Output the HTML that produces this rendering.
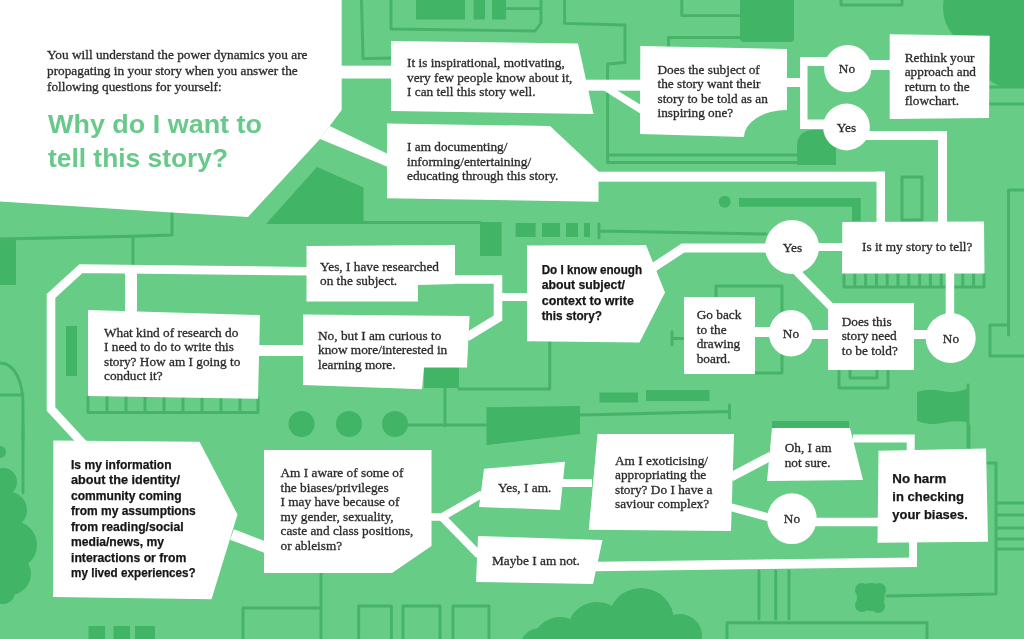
<!DOCTYPE html>
<html><head><meta charset="utf-8">
<style>
html,body{margin:0;padding:0;background:#66cc86;}
body{width:1024px;height:639px;overflow:hidden;position:relative;}
svg{will-change:transform;position:absolute;left:0;top:0;display:block}
.s{font-family:"Liberation Serif",serif;font-size:13.3px;fill:#2b2b2b;stroke:#2b2b2b;stroke-width:0.3px}
.b{font-family:"Liberation Sans",sans-serif;font-weight:bold;font-size:12.2px;fill:#161616;stroke:#161616;stroke-width:0.25px}
.h{font-family:"Liberation Sans",sans-serif;font-weight:bold;font-size:26px;fill:#68ca8a}
.nh{font-family:"Liberation Sans",sans-serif;font-weight:bold;font-size:13.2px;fill:#161616;stroke:#161616;stroke-width:0.25px}
</style></head><body>
<svg width="1024" height="639" viewBox="0 0 1024 639">
<rect width="1024" height="639" fill="#66cc86"/>

<!-- ===== background: dark shapes ===== -->
<g id="dark" fill="#41b466">
<rect x="416" y="-2" width="49" height="21.5"/>
<rect x="473.6" y="-2" width="11.4" height="21.5"/>
<rect x="492" y="-2" width="14" height="21.5"/>
<path d="M740,0 H794 V38 Q794,42 790,42 H744 Q740,42 740,38 Z"/>
<circle cx="985" cy="8" r="42"/><circle cx="1012" cy="52" r="36"/><circle cx="1000" cy="30" r="40"/>
<path d="M797,165 V147 Q797,130 814,130 H836 V165 Z"/>
<polygon points="266,224 317,167 363.5,187.5 363.5,224"/>
<rect x="0" y="240" width="16" height="45"/>
<rect x="66" y="326" width="11" height="50"/>
<rect x="480" y="222" width="21.6" height="34"/>
<rect x="515.6" y="223" width="20" height="14"/>
<rect x="542" y="223" width="18" height="14"/>
<rect x="566" y="223" width="12" height="14"/>
<rect x="584" y="223" width="6" height="14"/>
<rect x="424" y="366" width="35" height="22"/>
<circle cx="301.5" cy="424" r="13"/><circle cx="349" cy="424" r="13"/><circle cx="395" cy="424" r="13"/>
<polygon points="486.5,407.3 580,406 580,434 486.5,445"/>
<rect x="599.5" y="392.5" width="38.5" height="10"/>
<rect x="646" y="390" width="63.5" height="11"/>
<path d="M917,392 Q930,388 942,391 T967,389 V422 Q955,420 942,423 T917,421 Z"/>
<circle cx="0" cy="452" r="6"/><circle cx="3" cy="482" r="14"/><circle cx="9" cy="510" r="18"/><circle cx="13" cy="545" r="24"/><circle cx="10" cy="574" r="21"/><circle cx="3" cy="592" r="12"/>
<rect x="88.5" y="626" width="16.5" height="14"/><rect x="113.5" y="626" width="16.5" height="14"/><rect x="135" y="626" width="20" height="14"/>
<circle cx="597" cy="632" r="30"/><circle cx="641" cy="621" r="33"/><circle cx="680" cy="636" r="22"/><circle cx="560" cy="645" r="28"/><circle cx="540" cy="648" r="20"/>
<circle cx="870.7" cy="597" r="14"/><circle cx="862" cy="590" r="7"/><circle cx="879" cy="590" r="7"/><circle cx="862" cy="605" r="7"/><circle cx="878" cy="606" r="7"/>
<circle cx="724.7" cy="201.7" r="6"/>
<path d="M739,198 H860.7 V221 H852 V206.7 H739 Z"/>
<rect x="772" y="421" width="77" height="8"/>
</g>

<!-- ===== background: thin lines ===== -->
<g id="lines" fill="none" stroke="#46b369" stroke-width="2.9" stroke-linejoin="round" stroke-linecap="round">
<path d="M361.5,0 L363,58.6 L391,58"/>
<path d="M391,0 V29 L535,31 L541,23 V0 M506,8.6 H541"/>
<path d="M564.6,0 V23.4 L625,25 V62.5 L607.6,64 V162 M607.6,155 H797 M607.6,162.5 H800"/>
<path d="M681.8,0 V15.6 H740"/>
<path d="M668.5,47 V37.5 H740"/>
<path d="M841,0 V5 H902 V0"/>
<path d="M990,87 H1024 M990,104 H1024"/>
<path d="M0,239 L133,236.3 L172,235 V213 M133,236.3 V265"/>
<path d="M363,222.5 H480"/>
<path d="M549.7,342 V389 H459 M445,389 V426"/>
<path d="M755,286 H782 V373 H755 M716,297 V286 H755"/>
<path d="M839,370 V388 H888 V370 M850,370 V378 H877 V370"/>
<path d="M1008.5,335 V190 H1024 M990,325 V356 H1024 M990,325 H1008.5"/>
<path d="M902,177 H922 V220 H902 Z"/>
<path d="M844,274 V287 H984 V274 M854.8,274 V287 M865.6,274 V287 M876.4,274 V287 M887.2,274 V287 M898.0,274 V287 M908.8,274 V287 M919.6,274 V287 M930.4,274 V287 M941.2,274 V287 M952.0,274 V287 M962.8,274 V287 M973.6,274 V287"/>
<path d="M88,397 V412.5 H258 V398 M107,397 V412 M126,397 V412 M145,397 V412 M164,397 V412 M183,397 V412 M202,397 V412 M221,397 V412 M240,397 V412"/>
<path d="M0,363 C15,363 23,382 23,405 V440 M0,395 H23"/>
<path d="M968,385 V447"/>
<path d="M599,231 L766,234 M599,224 V238"/>
<path d="M672,338.5 H684 M672,332 V345"/>
<path d="M580,415 L729.5,411.5 M729.5,405 V418"/>
<path d="M408,425 H486"/>
<path d="M23,426 V493"/>
<path d="M321,573 V639 M243,639 V608 H321"/>
<path d="M358.7,639 V606 H391.4 V639 M403,639 V606 H440 V639 M453,639 V606 H489 V639"/>
<path d="M969,426 V448 M988,463 H996 V594 L887,596"/>
<path d="M997,503 H1024 M997,515 H1024 M997,528 H1024 M997,539 H1024 M997,549 H1024"/>
<path d="M759,571 V619 M775.7,571 V619 M789,571 V619 M727,639 V622.7 H927 V639"/>
</g>

<!-- ===== white flow shapes ===== -->
<g id="white" fill="#ffffff">
<polygon points="0,0 341.7,0 341.7,110 329.7,126 320,139 248,217 172,212.5 0,201.5"/>
<rect x="340" y="65.7" width="53" height="12.8"/>
<polygon points="329.7,126 388,154 388,167 320,139"/>
<polygon points="391,41 578,43.5 593.5,114 391,111"/>
<polygon points="387,123.5 550,126 598.5,171.5 598.5,201.8 387,198.3"/>
<rect x="586" y="79.7" width="56" height="11"/>
<polygon points="603,90 616.5,90 641,105 641,114"/>
<path d="M640.3,46 L787,49 V110 A43 27 0 0 0 744 137 L640,134 Z"/>
<rect x="786" y="78" width="16" height="9"/>
<rect x="800" y="57" width="7.5" height="72"/>
<rect x="800" y="57" width="47" height="9"/>
<rect x="800" y="119.5" width="47" height="9.5"/>
<circle cx="847.7" cy="68.6" r="23.6"/>
<circle cx="846.5" cy="127" r="23.4"/>
<rect x="847" y="60" width="44" height="10"/>
<polygon points="889.7,34.3 989.7,35.7 989,118 889.7,119"/>
<rect x="846" y="131" width="101" height="9"/>
<rect x="938" y="131" width="9" height="91"/>
<rect x="597" y="171.7" width="288" height="10"/>
<rect x="876.5" y="171.7" width="8.5" height="51"/>
<polygon points="842.3,222 984,221.5 984.5,273.5 842,273.5"/>
<circle cx="792" cy="247" r="27"/>
<rect x="815" y="243" width="28" height="8"/>
<rect x="828" y="303" width="86" height="67"/>
<circle cx="950.7" cy="338" r="25"/>
<rect x="945.7" y="272" width="8.5" height="45"/>
<rect x="912" y="330" width="18" height="9"/>
<ellipse cx="790.9" cy="333.3" rx="22" ry="23.2"/>
<rect x="810" y="330" width="20" height="9"/>
<rect x="753" y="327" width="20" height="10"/>
<rect x="684" y="297" width="71" height="77"/>
<polygon points="527,245.5 646,245 665,292.5 639.5,342.5 527,341.3"/>
<polygon points="306.5,246 455,245 455,284 418,285 418,301.5 306.5,301.5"/>
<rect x="125" y="270" width="12" height="42"/>
<polygon points="88,310 260,315 258,398.7 88,396"/>
<rect x="258" y="345" width="47" height="11"/>
<polygon points="303,314.5 469.6,316 467,367.5 424,367.5 422,389.3 303,385"/>
<polygon points="53.4,440.5 199.5,441.8 237.5,514.5 211.5,599.3 53,597"/>
<polygon points="264,450 431.5,450 431.5,546 392,573 264,573"/>
<polygon points="484,468.7 565,461.7 560,510 479,507"/>
<polygon points="478,536 602.5,540 593,584 476,582"/>
<polygon points="597.5,434 734,434 731,531 588.8,529.7"/>
<polygon points="772,428 850,428 863,480 767,481"/>
<ellipse cx="791.9" cy="518.7" rx="24.8" ry="25.4"/>
<polygon points="878.5,450.7 986,448.5 988,541.7 877.5,542.8"/>
</g>
<g id="wl" fill="none" stroke="#ffffff" stroke-linejoin="miter" stroke-linecap="butt">
<polyline points="648,271 683,248 770,248" stroke-width="9"/>
<polyline points="792,267 836,312" stroke-width="7.6"/>
<polyline points="453,279.5 498,279.5 498,318 467,337" stroke-width="8.6"/>
<polyline points="498,297 529,297" stroke-width="8"/>
<polyline points="308,271.2 81,268.6 51,296 51,409 86,447" stroke-width="8.6"/>
<polyline points="232,534.5 266,547.5" stroke-width="11"/>
<polyline points="430,517 442,517 482,494" stroke-width="7.5"/>
<polyline points="442,517 479,555" stroke-width="8"/>
<polyline points="560,483 592,483" stroke-width="8"/>
<polyline points="596,566.5 917,562.3" stroke-width="9.5"/><polyline points="913,567 913,541" stroke-width="8"/>
<polyline points="731,477 771,456" stroke-width="9"/>
<polyline points="730,507 771,518" stroke-width="8"/>
<polyline points="814,522 880,522" stroke-width="8.5"/>
<polyline points="853,438.5 910.7,438.5 910.7,452" stroke-width="8"/>
</g>

<!-- ===== text ===== -->
<g class="s">
<text x="47" y="58.5">You will understand the power dynamics you are</text>
<text x="47" y="74.8">propagating in your story when you answer the</text>
<text x="47" y="91">following questions for yourself:</text>

<text x="407" y="67">It is inspirational, motivating,</text>
<text x="407" y="81.7">very few people know about it,</text>
<text x="407" y="96.3">I can tell this story well.</text>

<text x="407" y="151">I am documenting/</text>
<text x="407" y="165.7">informing/entertaining/</text>
<text x="407" y="180.3">educating through this story.</text>

<text x="657.5" y="73.5">Does the subject of</text>
<text x="657.5" y="88">the story want their</text>
<text x="657.5" y="102.5">story to be told as an</text>
<text x="657.5" y="117">inspiring one?</text>

<text x="847" y="72.5" text-anchor="middle">No</text>
<text x="846.5" y="131.5" text-anchor="middle">Yes</text>

<text x="904.7" y="61.7">Rethink your</text>
<text x="904.7" y="76.2">approach and</text>
<text x="904.7" y="90.7">return to the</text>
<text x="904.7" y="105.2">flowchart.</text>

<text x="792.5" y="252" text-anchor="middle">Yes</text>
<text x="862" y="251.3">Is it my story to tell?</text>

<text x="841.7" y="325.5">Does this</text>
<text x="841.7" y="340">story need</text>
<text x="841.7" y="354.5">to be told?</text>
<text x="951" y="342.5" text-anchor="middle">No</text>
<text x="791" y="338" text-anchor="middle">No</text>

<text x="696.7" y="319">Go back</text>
<text x="696.7" y="333.5">to the</text>
<text x="696.7" y="348">drawing</text>
<text x="696.7" y="362.5">board.</text>

<text x="320" y="270.5">Yes, I have researched</text>
<text x="320" y="285">on the subject.</text>

<text x="104" y="336.7">What kind of research do</text>
<text x="104" y="351.2">I need to do to write this</text>
<text x="104" y="365.7">story? How am I going to</text>
<text x="104" y="380.2">conduct it?</text>

<text x="318" y="339.8">No, but I am curious to</text>
<text x="318" y="354.3">know more/interested in</text>
<text x="318" y="368.8">learning more.</text>

<text x="280.5" y="477">Am I aware of some of</text>
<text x="280.5" y="491.5">the biases/privileges</text>
<text x="280.5" y="506">I may have because of</text>
<text x="280.5" y="520.5">my gender, sexuality,</text>
<text x="280.5" y="535">caste and class positions,</text>
<text x="280.5" y="549.5">or ableism?</text>

<text x="498" y="491.5">Yes, I am.</text>
<text x="492" y="564.6">Maybe I am not.</text>

<text x="615" y="464.8">Am I exoticising/</text>
<text x="615" y="479.3">appropriating the</text>
<text x="615" y="493.8">story? Do I have a</text>
<text x="615" y="508.3">saviour complex?</text>

<text x="784.7" y="452">Oh, I am</text>
<text x="784.7" y="466.5">not sure.</text>
<text x="792" y="522.5" text-anchor="middle">No</text>
</g>

<g class="h">
<text x="48" y="132.7" textLength="214" lengthAdjust="spacingAndGlyphs">Why do I want to</text>
<text x="48" y="167" textLength="180" lengthAdjust="spacingAndGlyphs">tell this story?</text>
</g>

<g class="b">
<text x="541.7" y="274" textLength="100.4" lengthAdjust="spacingAndGlyphs">Do I know enough</text>
<text x="541.7" y="289.3" textLength="83.2" lengthAdjust="spacingAndGlyphs">about subject/</text>
<text x="541.7" y="304.7" textLength="92.2" lengthAdjust="spacingAndGlyphs">context to write</text>
<text x="541.7" y="320" textLength="60.3" lengthAdjust="spacingAndGlyphs">this story?</text>

<text x="71" y="468.7" textLength="100.5" lengthAdjust="spacingAndGlyphs">Is my information</text>
<text x="71" y="484.2" textLength="109" lengthAdjust="spacingAndGlyphs">about the identity/</text>
<text x="71" y="499.7" textLength="110.6" lengthAdjust="spacingAndGlyphs">community coming</text>
<text x="71" y="515.2" textLength="124.7" lengthAdjust="spacingAndGlyphs">from my assumptions</text>
<text x="71" y="530.7" textLength="112.6" lengthAdjust="spacingAndGlyphs">from reading/social</text>
<text x="71" y="546.2" textLength="92.9" lengthAdjust="spacingAndGlyphs">media/news, my</text>
<text x="71" y="561.7" textLength="115.4" lengthAdjust="spacingAndGlyphs">interactions or from</text>
<text x="71" y="577.2" textLength="124.7" lengthAdjust="spacingAndGlyphs">my lived experiences?</text>
</g>
<g class="nh">
<text x="892.3" y="483.3" textLength="54" lengthAdjust="spacingAndGlyphs">No harm</text>
<text x="892.3" y="501" textLength="71.6" lengthAdjust="spacingAndGlyphs">in checking</text>
<text x="892.3" y="518.7" textLength="75.5" lengthAdjust="spacingAndGlyphs">your biases.</text>
</g>
</svg>
</body></html>
